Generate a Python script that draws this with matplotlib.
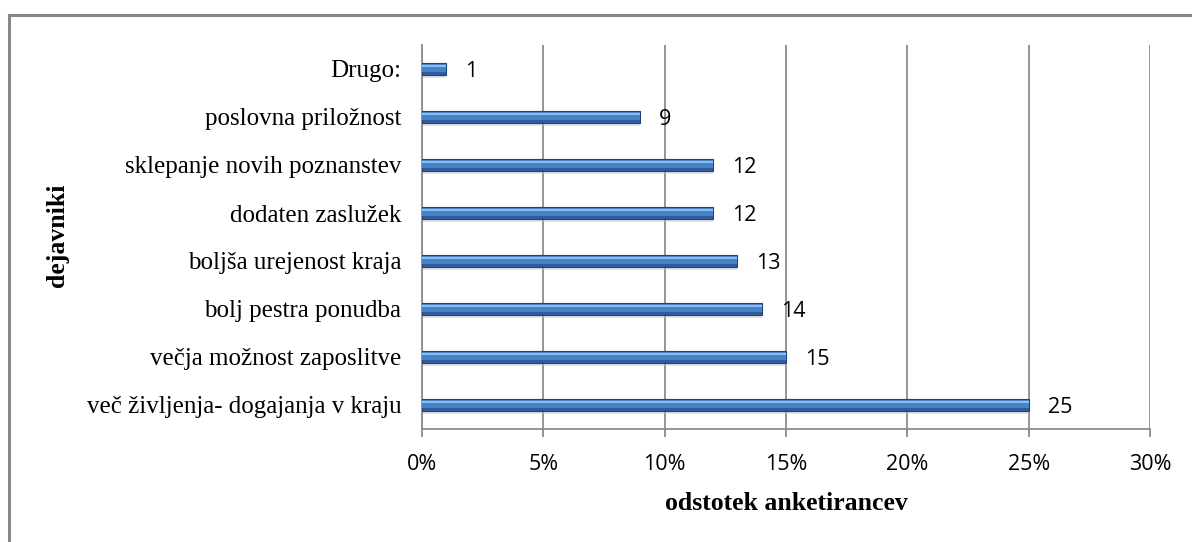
import matplotlib
matplotlib.use("Agg")
import matplotlib.pyplot as plt
from matplotlib.patches import Rectangle
from matplotlib.ticker import FuncFormatter

categories = ["več življenja- dogajanja v kraju", "večja možnost zaposlitve",
              "bolj pestra ponudba", "boljša urejenost kraja", "dodaten zaslužek",
              "sklepanje novih poznanstev", "poslovna priložnost", "Drugo:"]
values = [25, 15, 14, 13, 12, 12, 9, 1]
xticks = [0, 5, 10, 15, 20, 25, 30]

fig = plt.figure(figsize=(11.92, 5.42), dpi=100)
ax = fig.add_axes([422 / 1192, 1 - 429 / 542, 728 / 1192, 384 / 542])

y = list(range(len(categories)))
h = 0.27
# shadow, main body, lighter bands for the bevelled look
ax.barh([v - 0.06 for v in y], values, height=h, color="#bdbdbd", alpha=0.45, zorder=2)
ax.barh(y, values, height=h, color="#2d5d9c", edgecolor="#1f4275", linewidth=0.8, zorder=3)
ax.barh([v + 0.02 for v in y], values, height=h * 0.55, color="#4a82c8", zorder=4)
ax.barh([v + 0.06 for v in y], values, height=h * 0.2, color="#8fbcee", zorder=5)

for yi, v in zip(y, values):
    ax.text(v + 0.78, yi, str(v), va="center_baseline", ha="left", fontsize=15.5,
            family="Open Sans", color="black")

ax.set_xlim(0, 30)
ax.set_ylim(-0.5, len(categories) - 0.5)
ax.set_xticks(xticks)
ax.xaxis.set_major_formatter(FuncFormatter(lambda x, p: "%d%%" % x))
ax.set_yticks(y)
ax.set_yticklabels(categories, family="Liberation Serif", fontsize=18)
for lbl in ax.get_xticklabels():
    lbl.set_family("Open Sans")
    lbl.set_fontsize(15.5)
ax.grid(axis="x", color="#8c8c8c", linewidth=1.3, zorder=0)
ax.set_axisbelow(True)
for s in ["top", "right"]:
    ax.spines[s].set_visible(False)
ax.spines["left"].set_color("#8c8c8c")
ax.spines["bottom"].set_color("#8c8c8c")
ax.spines["left"].set_linewidth(1.3)
ax.spines["bottom"].set_linewidth(1.3)
ax.tick_params(axis="y", length=0, pad=15)
ax.tick_params(axis="x", length=6, color="#8c8c8c", width=1.3, pad=12)

fig.text(786 / 1192, 1 - 503 / 542, "odstotek anketirancev", ha="center", va="center",
         family="Liberation Serif", fontweight="bold", fontsize=18.5)
fig.text(58 / 1192, 1 - 235 / 542, "dejavniki", rotation=90, ha="center", va="center",
         family="Liberation Serif", fontweight="bold", fontsize=18.5)

fig.patches.append(Rectangle((9 / 1192, -0.1), 1.2, 1 - 15 / 542 + 0.1,
                             transform=fig.transFigure, fill=False,
                             edgecolor="#888888", linewidth=2.2))

fig.savefig("out.png", dpi=100)
